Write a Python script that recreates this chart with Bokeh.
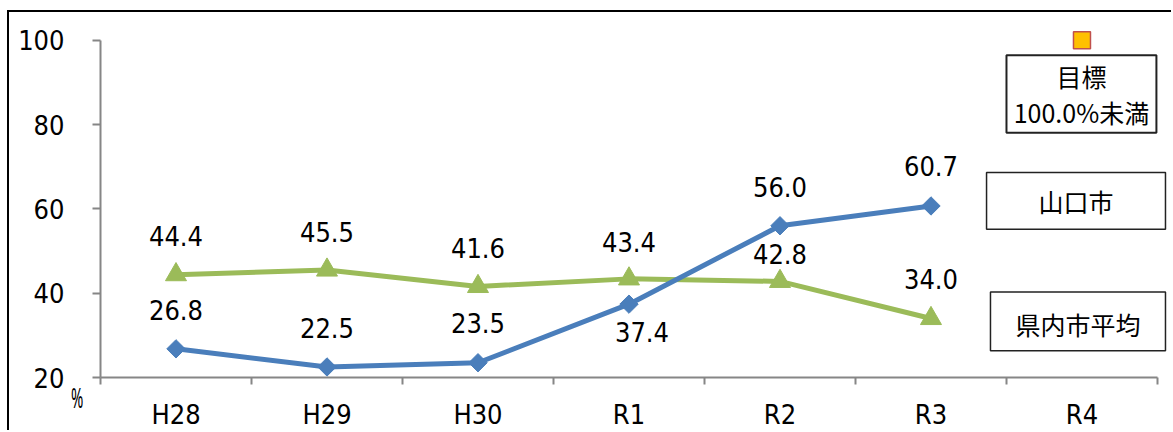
import math

from bokeh.plotting import figure
from bokeh.layouts import column
from bokeh.models import Range1d, FixedTicker, BoxAnnotation, Label, ColumnDataSource, Div
from bokeh.core.properties import value
from bokeh.embed import file_html
from bokeh.resources import INLINE

# --- data -------------------------------------------------------------
years = ["H28", "H29", "H30", "R1", "R2", "R3", "R4"]
yamaguchi = [26.8, 22.5, 23.5, 37.4, 56.0, 60.7]      # 山口市
pref_avg = [44.4, 45.5, 41.6, 43.4, 42.8, 34.0]       # 県内市平均
target_year = "R4"
target_value = 100.0                                  # 目標
y_ticks = [20, 40, 60, 80, 100]

# --- styling ----------------------------------------------------------
BLUE = "#4A7EBB"
GREEN = "#9BBB59"
AXIS = "#868686"
NUM_FONT = "'Liberation Sans Narrow', 'DejaVu Sans Condensed', 'Noto Sans'"
JP_FONT = "Noto Sans CJK JP"

# label offsets in pixels (dx, dy); negative dy = above the point
yama_off = [(0, -39), (0, -39), (0, -40), (13, 28), (0, -39), (0, -40)]
pref_off = [(0, -39), (0, -38), (0, -38), (0, -37), (0, -27), (0, -39)]

n = len(years)
xc = [i + 0.5 for i in range(n)]
x_of = dict(zip(years, xc))

p = figure(
    width=1164, height=420,
    x_range=Range1d(0, 7.073), y_range=Range1d(20, 106.6),
    output_backend="svg", toolbar_location=None,
    min_border_left=91, min_border_right=5, min_border_top=0, min_border_bottom=53,
)
p.styles = {"border-top": "2px solid #000", "border-left": "2px solid #000",
            "margin-top": "10px", "margin-left": "7px"}
p.outline_line_color = None
p.xgrid.visible = False
p.ygrid.visible = False
p.background_fill_color = "white"
p.border_fill_color = "white"

# y axis
ya = p.yaxis[0]
ya.ticker = FixedTicker(ticks=y_ticks)
ya.bounds = (20, 100)
ya.axis_line_color = AXIS
ya.axis_line_width = 2
ya.major_tick_line_color = AXIS
ya.major_tick_line_width = 2
ya.major_tick_out = 8
ya.major_tick_in = 0
ya.minor_tick_line_color = None
ya.major_label_standoff = 28
ya.major_label_text_font = NUM_FONT
ya.major_label_text_font_size = "27px"
ya.major_label_text_color = "black"

# x axis: labels at category centres, ticks on category boundaries
xa = p.xaxis[0]
xa.ticker = FixedTicker(ticks=xc, minor_ticks=list(range(n + 1)))
xa.major_label_overrides = {x: y for x, y in zip(xc, years)}
xa.bounds = (0, n)
xa.axis_line_color = AXIS
xa.axis_line_width = 2
xa.major_tick_line_color = None
xa.minor_tick_line_color = AXIS
xa.minor_tick_line_width = 2
xa.minor_tick_out = 7
xa.minor_tick_in = 0
xa.major_label_standoff = 14
xa.major_label_text_font = NUM_FONT
xa.major_label_text_font_size = "27px"
xa.major_label_text_color = "black"

# series
yx = xc[:len(yamaguchi)]
px_ = xc[:len(pref_avg)]
p.line(px_, pref_avg, line_width=5, line_color=GREEN)
p.scatter(px_, pref_avg, marker="triangle", size=21, fill_color=GREEN, line_color=GREEN)
p.line(yx, yamaguchi, line_width=5, line_color=BLUE)
p.scatter(yx, yamaguchi, marker="square", angle=math.pi / 4, size=13,
          fill_color=BLUE, line_color=BLUE)

# target marker
p.scatter([x_of[target_year]], [target_value], marker="square", size=17,
          fill_color="#FFC000", line_color="#C0504D", line_width=1.5)

# value labels
def add_labels(xs, vals, offs):
    src = ColumnDataSource(dict(
        x=xs, y=vals, t=[f"{v:.1f}" for v in vals],
        dx=[o[0] for o in offs], dy=[o[1] for o in offs]))
    p.text("x", "y", text="t", x_offset="dx", y_offset="dy", source=src,
           text_align="center", text_baseline="middle",
           text_font=value(NUM_FONT), text_font_size="27px", text_color="black")

add_labels(yx, yamaguchi, yama_off)
add_labels(px_, pref_avg, pref_off)

# boxed captions
def caption_box(left, right, bottom, top, lw, lines, ys):
    p.add_layout(BoxAnnotation(left=left, right=right, bottom=bottom, top=top,
                               fill_color="white", fill_alpha=1.0,
                               line_color="#222222", line_width=lw, line_alpha=1.0))
    cx = (left + right) / 2
    for txt, yy in zip(lines, ys):
        p.add_layout(Label(x=cx, y=yy, text=txt, text_align="center",
                           text_baseline="middle", text_font=JP_FONT,
                           text_font_size="25px", text_color="black"))

caption_box(6.0, 6.993, 78.05, 96.46, 2, ["目標", "100.0%未満"], [91.5, 83.0])
caption_box(5.868, 7.053, 55.16, 68.61, 1.5, ["山口市"], [61.8])
caption_box(5.894, 7.053, 26.37, 40.30, 1.5, ["県内市平均"], [32.8])

# unit mark "%" sitting below the y axis, beside the lowest tick label
unit = Div(
    text=('<span style="display:block;font-size:27px;line-height:1;'
          'font-family:\'Noto Sans\';color:black">%</span>'),
    styles={"position": "absolute", "left": "66px", "top": "379px",
            "transform": "scaleX(0.55)", "transform-origin": "left top"})

open("out.html", "w").write(file_html(column(p, unit), INLINE))
